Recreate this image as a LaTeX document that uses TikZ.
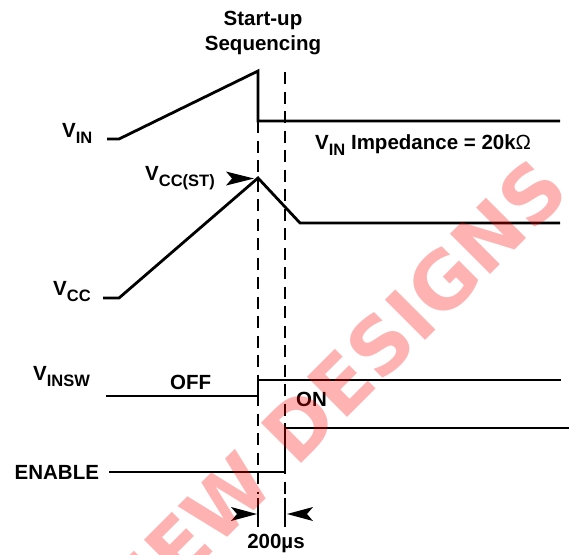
\documentclass[tikz,border=0pt]{standalone}
\usepackage{fontspec}
\setmainfont{Liberation Sans}
\newfontfamily\wmfont{DejaVu Sans}
\newcommand{\sgl}[2]{#1\raisebox{-6pt}{\fontsize{16.5}{18}\selectfont #2}}
\begin{document}
\begin{tikzpicture}[x=1pt,y=-1pt,
  wave/.style={line width=2.8pt, line join=miter},
  guide/.style={line width=2.8pt, dash pattern=on 12pt off 7.5pt},
  tickline/.style={line width=2.8pt},
  lbl/.style={font=\fontsize{20.5}{24}\selectfont\bfseries, inner sep=0pt, anchor=base west},
  headfill/.style={fill=black, draw=none}]
\useasboundingbox (0,0) rectangle (569,554);
\fill[white] (0,0) rectangle (569,554);
% title
\node[lbl, anchor=base] (t1) at (263,25) {Start-up};
\node[lbl, anchor=base] (t2) at (263,50) {Sequencing};
% labels
\node[lbl] (vin) at (62,137) {\sgl{V}{IN}};
\node[lbl] (vimp) at (315,149) {\sgl{V}{IN} Impedance = 20k{\mdseries Ω}};
\node[lbl] (vccst) at (145,180) {\sgl{V}{CC(ST)}};
\node[lbl] (vcc) at (53,295) {\sgl{V}{CC}};
\node[lbl] (vinsw) at (33,380) {\sgl{V}{INSW}};
\node[lbl] (off) at (170,389) {OFF};
\node[lbl] (on) at (296,406) {ON};
\node[lbl] (en) at (14.5,479) {ENABLE};
\node[lbl, anchor=base] (dt) at (276,548) {200µs};
% key coordinates
\coordinate (d1top) at (258,121);
\coordinate (d1bot) at (258,494);
\coordinate (d2top) at (285,72);
\coordinate (d2bot) at (285,494);
\coordinate (k1a) at (258,498);
\coordinate (k1b) at (258,527);
\coordinate (k2a) at (285,498);
\coordinate (k2b) at (285,527);
% guides
\draw[guide] (d1top) -- (d1bot);
\draw[guide] (d2top) -- (d2bot);
\draw[tickline] (k1a) -- (k1b);
\draw[tickline] (k2a) -- (k2b);
% waveforms
\draw[wave] (107,139) -- (119,139) -- (258,71) -- (258,121) -- (560,121);
\draw[wave] (103,298) -- (119,298) -- (258,178) -- (300,223) -- (560,223);
\draw[wave] (106,396) -- (258,396) -- (258,380) -- (561,380);
\draw[wave] (109,472) -- (285,472) -- (285,428) -- (569,428);
% arrowheads
\fill[headfill] (254,178.5) -- (226,171.5) -- (232,178.5) -- (226,185.5) -- cycle;
\fill[headfill] (257,514) -- (231,507) -- (237,514) -- (231,521) -- cycle;
\fill[headfill] (287,514) -- (313,507) -- (307,514) -- (313,521) -- cycle;
% watermark
\begin{scope}
\clip (0,0) rectangle (569,554);
\node[rotate=45, anchor=east, inner sep=0pt, text=red, text opacity=0.3,
  font=\fontsize{78}{80}\selectfont\wmfont\bfseries] (wm) at (552,173) {NOT RECOMMENDED FOR NEW DESIGNS};
\end{scope}
\end{tikzpicture}
\end{document}
